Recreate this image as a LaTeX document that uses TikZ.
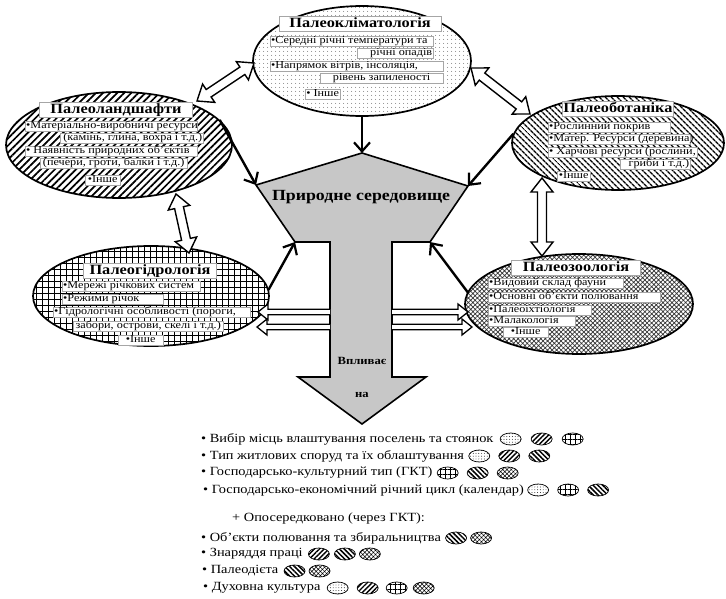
\documentclass[tikz,border=0pt]{standalone}
\usepackage{fontspec}
\setmainfont{Liberation Serif}[FakeStretch=1.15]
\usetikzlibrary{shapes.geometric,patterns.meta,arrows.meta,calc}

\newcommand\bodyfont{\fontsize{10.6}{12}\selectfont}
\newcommand\titlefont{\fontsize{14.2}{16}\selectfont\bfseries}
\newcommand\listfont{\fontsize{12.5}{14}\selectfont}

\tikzset{
 ell/.style={ellipse, draw, line width=1.7pt, inner sep=0pt},
 tb/.style={fill=white, draw=black!35, line width=.35pt, inner xsep=1pt, inner ysep=.4pt, anchor=west, font=\bodyfont, text height=7.6pt, text depth=2.2pt},
 tt/.style={fill=white, draw=black!35, line width=.35pt, inner xsep=1pt, inner ysep=.8pt, font=\titlefont, text height=10.2pt, text depth=3pt},
 thickarrow/.style={line width=2.4pt, -{Straight Barb[length=9pt,width=16pt,line width=2.2pt]}},
 block/.style={draw, fill=white, line width=1.4pt, line join=miter},
 centre/.style={draw, fill=black!22, line width=1.6pt, line join=miter},
 icon/.style={ellipse, draw, line width=.7pt, minimum width=21pt, minimum height=12pt, inner sep=0pt},
 lst/.style={anchor=west, font=\listfont, inner sep=0pt},
 pklim/.style={pattern={Dots[distance=4pt,radius=.55pt]}, pattern color=black!70},
 pland/.style={pattern={Lines[angle=45,distance=5pt,line width=1.7pt]}},
 pbot/.style={pattern={Lines[angle=-45,distance=4pt,line width=1.4pt]}},
 phyd/.style={pattern={Hatch[angle=0,distance=6pt,line width=.7pt]}},
 pzoo/.style={pattern={Hatch[angle=45,distance=3.2pt,line width=.7pt]}, pattern color=black!80},
 sdots/.style={pattern={Dots[distance=2.8pt,radius=.45pt]}},
 sne/.style={pattern={Lines[angle=45,distance=3.4pt,line width=1.4pt]}},
 sgrid/.style={pattern={Hatch[angle=0,distance=5pt,line width=.6pt]}},
 snw/.style={pattern={Lines[angle=-45,distance=3.4pt,line width=1.5pt]}},
 scross/.style={pattern={Hatch[angle=45,distance=3pt,line width=.5pt]}},
}

% name, x, y, width, align, text
\newcommand\tbx[6]{\node[tb] (#1) at (#2,#3) {\makebox[#4pt][#5]{#6}};}

\newcommand\dblblock[2]{%
 \coordinate (pa) at ($(#1)!14pt!(#2)$);
 \coordinate (pb) at ($(#2)!14pt!(#1)$);
 \draw[block] (#1) -- ($(pa)!11pt!90:(#2)$) -- ($(pa)!4.5pt!90:(#2)$) -- ($(pb)!4.5pt!-90:(#1)$) -- ($(pb)!11pt!-90:(#1)$) -- (#2) -- ($(pb)!11pt!90:(#1)$) -- ($(pb)!4.5pt!90:(#1)$) -- ($(pa)!4.5pt!-90:(#2)$) -- ($(pa)!11pt!-90:(#2)$) -- cycle;}

\newcommand\sglblock[2]{%
 \coordinate (pb) at ($(#2)!10pt!(#1)$);
 \draw[block, line width=1.3pt] ($(#1)!2.8pt!90:(#2)$) -- ($(pb)!2.8pt!-90:(#1)$) -- ($(pb)!8pt!-90:(#1)$) -- (#2) -- ($(pb)!8pt!90:(#1)$) -- ($(pb)!2.8pt!90:(#1)$) -- ($(#1)!2.8pt!-90:(#2)$);}

\begin{document}
\begin{tikzpicture}[x=1pt,y=-1pt]
\useasboundingbox (0,0) rectangle (726,599);
\fill[white] (0,0) rectangle (726,599);

% ---- ellipses
\node[ell, pklim, minimum width=218pt, minimum height=110pt] (klim) at (362,61) {};
\node[ell, pland, minimum width=226pt, minimum height=106pt] (land) at (119,145) {};
\node[ell, pbot, minimum width=212pt, minimum height=94pt] (bot) at (618,143) {};
\node[ell, phyd, minimum width=236pt, minimum height=100pt] (hyd) at (151,296) {};
\node[ell, pzoo, minimum width=228pt, minimum height=100pt] (zoo) at (579,304) {};

% ---- Paleoklimatologiia
\node[tt] (klimT) at (360,24) {\makebox[160pt]{Палеокліматологія}};
\tbx{k1}{270}{41}{161}{l}{•Середні  річні  температури  та}
\tbx{k2}{357}{53}{74}{r}{річні  опадів}
\tbx{k3}{270}{66}{171}{l}{•Напрямок  вітрів,  інсоляція,}
\tbx{k4}{320}{78}{121}{c}{рівень  запиленості}
\tbx{k5}{305}{94}{33}{c}{• Інше}

% ---- Paleolandshafty
\node[tt] (landT) at (116,110) {\makebox[151pt]{Палеоландшафти}};
\tbx{l1}{25}{126}{170}{l}{•Матеріально-виробничі  ресурси}
\tbx{l2}{60}{138}{141}{r}{(камінь,  глина,  вохра і т.д.)}
\tbx{l3}{25}{151}{170}{l}{• Наявність  природних  об’єктів}
\tbx{l4}{40}{163}{145}{c}{(печери,  гроти,  балки і т.д.)}
\tbx{l5}{85}{180}{33}{c}{•Інше}

% ---- Paleobotanika
\node[tt] (botT) at (618,109) {\makebox[109pt]{Палеоботаніка}};
\tbx{b1}{548}{127}{120}{l}{•Рослинний  покрив}
\tbx{b2}{548}{139}{140}{l}{•Матер. Ресурси (деревина)}
\tbx{b3}{548}{152}{147}{l}{• Харчові  ресурси  (рослини,}
\tbx{b4}{620}{164}{68}{r}{гриби і т.д.)}
\tbx{b5}{557}{176}{31}{c}{•Інше}

% ---- Paleohidrologiia
\node[tt] (hydT) at (150,271) {\makebox[131pt]{Палеогідрологія}};
\tbx{h1}{62}{286}{136}{l}{•Мережі  річкових  систем}
\tbx{h2}{62}{299}{99}{l}{•Режими  річок}
\tbx{h3}{53}{312}{195}{l}{•Гідрологічні  особливості  (пороги,}
\tbx{h4}{73}{326}{148}{c}{забори,  острови,  скелі і т.д.)}
\tbx{h5}{118}{340}{43}{c}{•Інше}

% ---- Paleozoologiia
\node[tt] (zooT) at (576,268) {\makebox[127pt]{Палеозоологія}};
\tbx{z1}{488}{283}{133}{l}{•Видовий  склад  фауни}
\tbx{z2}{488}{297}{170}{l}{•Основні  об’єкти  полювання}
\tbx{z3}{488}{310}{101}{l}{•Палеоіхтіологія}
\tbx{z4}{488}{321}{85}{l}{•Малакологія}
\tbx{z5}{503}{332}{43}{c}{•Інше}

% ---- central shape
\coordinate (apex) at (362,153);
\coordinate (cl) at (256,185);
\coordinate (cr) at (468,186);
\coordinate (ll) at (295,242);
\coordinate (lr) at (430,242);
\coordinate (sl) at (330,242);
\coordinate (sr) at (392,242);
\coordinate (sbl) at (330,377);
\coordinate (sbr) at (392,377);
\coordinate (hl) at (298,377);
\coordinate (hr) at (426,377);
\coordinate (tip) at (362,424);
\draw[centre] (apex) -- (cr) -- (lr) -- (sr) -- (sbr) -- (hr) -- (tip) -- (hl) -- (sbl) -- (sl) -- (ll) -- (cl) -- cycle;
\node[font=\fontsize{15.5}{17}\selectfont\bfseries] (env) at (361,197) {Природне середовище};
\node[font=\fontsize{11}{13}\selectfont\bfseries] (vpl) at (362,361) {Впливає};
\node[font=\fontsize{11}{13}\selectfont\bfseries] (na) at (362,395) {на};

% ---- double block arrows between ellipses
\coordinate (d1a) at (197,101); \coordinate (d1b) at (254,63);
\coordinate (d2a) at (471,68);  \coordinate (d2b) at (530,114);
\coordinate (d3a) at (176,194); \coordinate (d3b) at (189,253);
\coordinate (d4a) at (542,178); \coordinate (d4b) at (542,256);
\dblblock{d1a}{d1b}
\dblblock{d2a}{d2b}
\dblblock{d3a}{d3b}
\dblblock{d4a}{d4b}

% ---- horizontal single block arrows
\coordinate (hlt1) at (330,312); \coordinate (hlp1) at (258,312);
\coordinate (hlt2) at (330,327); \coordinate (hlp2) at (257,327);
\coordinate (hrt1) at (392,312); \coordinate (hrp1) at (468,312);
\coordinate (hrt2) at (392,327); \coordinate (hrp2) at (472,327);
\sglblock{hlt1}{hlp1}
\sglblock{hlt2}{hlp2}
\sglblock{hrt1}{hrp1}
\sglblock{hrt2}{hrp2}

% ---- thick arrows into the centre
\draw[thickarrow] (klim.south) -- (apex);
\draw[thickarrow] (land.14) -- (cl);
\draw[thickarrow] (bot.175) -- (cr);
\draw[thickarrow] (hyd.3) -- (ll);
\draw[thickarrow] (zoo.174) -- (lr);

% ---- list
\node[lst] (r1) at (201,439) {• Вибір місць влаштування поселень та стоянок};
\node[icon,sdots] (r1a) at ($(r1.east)+(17,0)$) {};
\node[icon,sne] (r1b) at ($(r1a)+(31,0)$) {};
\node[icon,sgrid] (r1c) at ($(r1b)+(31,0)$) {};

\node[lst] (r2) at (201,456) {• Тип житлових споруд та їх облаштування};
\node[icon,sdots] (r2a) at ($(r2.east)+(15,0)$) {};
\node[icon,sne] (r2b) at ($(r2a)+(30,0)$) {};
\node[icon,snw] (r2c) at ($(r2b)+(30,0)$) {};

\node[lst] (r3) at (201,473) {• Господарсько-культурний тип (ГКТ)};
\node[icon,sgrid] (r3a) at ($(r3.east)+(15,0)$) {};
\node[icon,snw] (r3b) at ($(r3a)+(30,0)$) {};
\node[icon,scross] (r3c) at ($(r3b)+(30,0)$) {};

\node[lst] (r4) at (203,490) {• Господарсько-економічний річний цикл (календар)};
\node[icon,sdots] (r4a) at ($(r4.east)+(14,0)$) {};
\node[icon,sgrid] (r4b) at ($(r4a)+(30,0)$) {};
\node[icon,snw] (r4c) at ($(r4b)+(30,0)$) {};

\node[lst] (r5) at (232,518) {+ Опосередковано (через ГКТ):};

\node[lst] (r6) at (201,538) {• Об’єкти полювання та збиральництва};
\node[icon,snw] (r6a) at ($(r6.east)+(15,0)$) {};
\node[icon,scross] (r6b) at ($(r6a)+(25,0)$) {};

\node[lst] (r7) at (201,554) {• Знаряддя праці};
\node[icon,sne] (r7a) at ($(r7.east)+(16,0)$) {};
\node[icon,snw] (r7b) at ($(r7a)+(26,0)$) {};
\node[icon,scross] (r7c) at ($(r7b)+(25,0)$) {};

\node[lst] (r8) at (202,571) {• Палеодієта};
\node[icon,snw] (r8a) at ($(r8.east)+(16,0)$) {};
\node[icon,scross] (r8b) at ($(r8a)+(25,0)$) {};

\node[lst] (r9) at (203,588) {• Духовна культура};
\node[icon,sdots] (r9a) at ($(r9.east)+(17,0)$) {};
\node[icon,sne] (r9b) at ($(r9a)+(30,0)$) {};
\node[icon,sgrid] (r9c) at ($(r9b)+(29,0)$) {};
\node[icon,scross] (r9d) at ($(r9c)+(27,0)$) {};
\end{tikzpicture}
\end{document}
